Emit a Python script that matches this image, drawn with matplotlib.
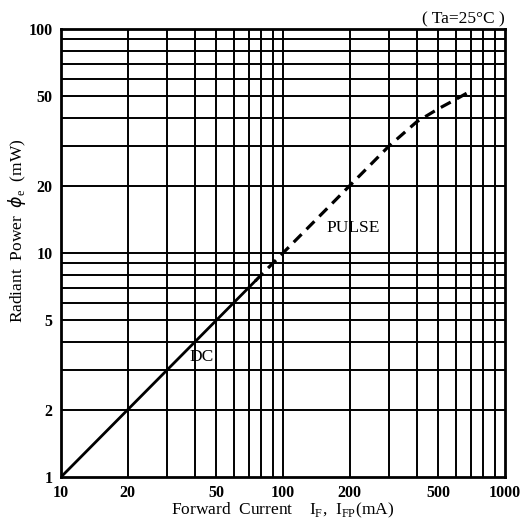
import numpy as np
import matplotlib
matplotlib.use("Agg")
import matplotlib.pyplot as plt

plt.rcParams['font.family'] = ['Liberation Serif', 'DejaVu Serif']

# curve
dc_current = [10, 20, 30, 50, 75]
dc_power = [1.0, 2.0, 3.0, 5.0, 7.5]

pulse_current = [75, 100, 200, 300, 400, 500, 600, 680]
pulse_power = [7.5, 10.0, 20.0, 30.0, 38.5, 44.0, 48.5, 52.0]

x_ticks = [10, 20, 50, 100, 200, 500, 1000]
y_ticks = [1, 2, 5, 10, 20, 50, 100]

fig = plt.figure(figsize=(5.26, 5.22), dpi=100)
ax = fig.add_axes([0.116, 0.0862, 0.844, 0.8582])

ax.set_xscale('log')
ax.set_yscale('log')
ax.set_xlim(10, 1000)
ax.set_ylim(1, 100)

# log grid lines
for dec in [10, 100]:
    for m in range(1, 10):
        v = dec * m
        if 10 < v < 1000:
            ax.axvline(v, color='black', lw=1.4, zorder=1)
for dec in [1, 10]:
    for m in range(1, 10):
        v = dec * m
        if 1 < v < 100:
            ax.axhline(v, color='black', lw=1.4, zorder=1)

ax.plot(dc_current, dc_power, color='black', lw=2.0, zorder=3)
ax.plot(pulse_current, pulse_power, color='black', lw=2.3, ls=(0, (3.5, 2.2)), zorder=3)

ax.text(43, 3.45, 'DC', fontsize=12.5, ha='center', va='center')
ax.text(208, 12.9, 'PULSE', fontsize=12.5, ha='center', va='center')
ax.text(1000, 101.5, '( Ta=25°C )', fontsize=12.5, ha='right', va='bottom')

ax.set_xticks(x_ticks)
ax.set_xticklabels([str(t) for t in x_ticks])
ax.set_yticks(y_ticks)
ax.set_yticklabels([str(t) for t in y_ticks])
ax.minorticks_off()
ax.tick_params(length=0, labelsize=11.5, pad=6)
for lab in ax.get_xticklabels() + ax.get_yticklabels():
    lab.set_fontweight('bold')

for s in ax.spines.values():
    s.set_linewidth(2.0)

ax.set_xlabel(r'Forward  Current    I$_\mathregular{F}$,  I$_\mathregular{FP}$(mA)', fontsize=12.5)
ax.xaxis.set_label_coords(0.5, -0.052)
ax.xaxis.label.set_va('top')
ax.set_ylabel(r'Radiant  Power  $\phi_\mathregular{e}$  (mW)', fontsize=12.5)
ax.yaxis.set_label_coords(-0.074, 0.55)

fig.savefig('out.png', dpi=100)
